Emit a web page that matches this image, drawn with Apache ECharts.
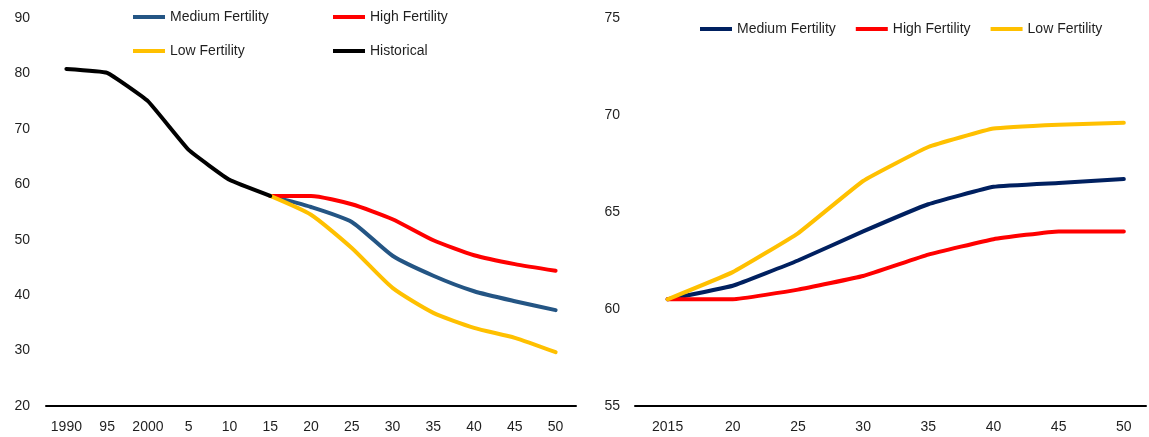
<!DOCTYPE html>
<html>
<head>
<meta charset="utf-8">
<script src="https://cdn.jsdelivr.net/npm/echarts@6/dist/echarts.min.js"></script>
<style>
  html, body { margin: 0; padding: 0; background: #fff; }
  #left { position: absolute; left: 0; top: 0; width: 580px; height: 437px; }
  #right { position: absolute; left: 580px; top: 0; width: 569px; height: 437px; }
</style>
</head>
<body>
<div id="left"></div>
<div id="right"></div>
<script>
// 左图 年份 / 刻度
var histYears = [1990, 1995, 2000, 2005, 2010, 2015];
var projYears = [2015, 2020, 2025, 2030, 2035, 2040, 2045, 2050];
var leftTickYears = [1990, 1995, 2000, 2005, 2010, 2015, 2020, 2025, 2030, 2035, 2040, 2045, 2050];
var leftTickLabels = ['1990', '95', '2000', '5', '10', '15', '20', '25', '30', '35', '40', '45', '50'];

var historical = [80.8, 80.1, 75.0, 66.2, 60.8, 57.9];
var leftMedium = [57.9, 55.9, 53.2, 47.1, 43.5, 40.7, 38.9, 37.3];
var leftHigh = [57.9, 57.9, 56.4, 53.7, 49.9, 47.2, 45.6, 44.4];
var leftLow = [57.9, 54.5, 48.5, 41.3, 36.8, 34.1, 32.3, 29.7];

// 右图
var rightTickYears = [2015, 2020, 2025, 2030, 2035, 2040, 2045, 2050];
var rightTickLabels = ['2015', '20', '25', '30', '35', '40', '45', '50'];
var rightMedium = [60.5, 61.2, 62.5, 64.0, 65.4, 66.3, 66.5, 66.7];
var rightHigh = [60.5, 60.5, 61.0, 61.7, 62.8, 63.6, 64.0, 64.0];
var rightLow = [60.5, 61.9, 63.9, 66.6, 68.35, 69.3, 69.5, 69.6];

var FONT = 'Liberation Sans, Arial, sans-serif';
var TXT = '#1f1f1f';

function pairs(xs, ys) {
  var out = [];
  for (var i = 0; i < xs.length; i++) {
    out.push([xs[i], ys[i]]);
  }
  return out;
}

function tickFormatter(years, labels) {
  return function(v) {
    var i = years.indexOf(Math.round(v * 10) / 10);
    return i >= 0 ? labels[i] : '';
  };
}

function lineSeries(name, color, data, smooth) {
  return {
    name: name,
    type: 'line',
    color: color,
    symbol: 'none',
    smooth: smooth || false,
    lineStyle: { width: 4, color: color, cap: 'round', join: 'round' },
    data: data
  };
}

function legendAt(names, left, top) {
  return {
    data: names,
    left: left,
    top: top,
    padding: 0,
    icon: 'rect',
    itemWidth: 32,
    itemHeight: 4,
    itemGap: 20,
    selectedMode: false,
    textStyle: { fontFamily: FONT, fontSize: 14, color: TXT }
  };
}

function xAxisOf(min, max, years, labels) {
  return {
    type: 'value',
    min: min,
    max: max,
    interval: 2.5,
    axisLine: { show: true, lineStyle: { color: '#000', width: 2 } },
    axisTick: { show: false },
    splitLine: { show: false },
    axisLabel: {
      margin: 14,
      fontFamily: FONT,
      fontSize: 14,
      color: TXT,
      showMinLabel: true,
      showMaxLabel: true,
      formatter: tickFormatter(years, labels)
    }
  };
}

function yAxisOf(min, max, interval, margin) {
  return {
    type: 'value',
    min: min,
    max: max,
    interval: interval,
    axisLine: { show: false },
    axisTick: { show: false },
    splitLine: { show: false },
    axisLabel: { margin: margin, fontFamily: FONT, fontSize: 14, color: TXT }
  };
}

var leftChart = echarts.init(document.getElementById('left'));
leftChart.setOption({
  animation: false,
  textStyle: { fontFamily: FONT },
  legend: [
    legendAt(['Medium Fertility'], 133, 10),
    legendAt(['High Fertility'], 333, 10),
    legendAt(['Low Fertility'], 133, 44),
    legendAt(['Historical'], 333, 44)
  ],
  grid: { left: 46, right: 4, top: 18, bottom: 31 },
  xAxis: xAxisOf(1987.5, 2052.5, leftTickYears, leftTickLabels),
  yAxis: yAxisOf(20, 90, 10, 16),
  series: [
    lineSeries('Medium Fertility', '#245584', pairs(projYears, leftMedium), 0.2),
    lineSeries('High Fertility', '#ff0000', pairs(projYears, leftHigh), 0.2),
    lineSeries('Low Fertility', '#ffc000', pairs(projYears, leftLow), 0.2),
    lineSeries('Historical', '#000000', pairs(histYears, historical), 0.1)
  ]
});

var rightChart = echarts.init(document.getElementById('right'));
rightChart.setOption({
  animation: false,
  textStyle: { fontFamily: FONT },
  legend: legendAt(['Medium Fertility', 'High Fertility', 'Low Fertility'], 120, 22),
  grid: { left: 55, right: 0, top: 18, bottom: 31 },
  xAxis: xAxisOf(2012.5, 2051.7, rightTickYears, rightTickLabels),
  yAxis: yAxisOf(55, 75, 5, 15),
  series: [
    lineSeries('Medium Fertility', '#002060', pairs(projYears, rightMedium), 0.1),
    lineSeries('High Fertility', '#ff0000', pairs(projYears, rightHigh), 0.1),
    lineSeries('Low Fertility', '#ffc000', pairs(projYears, rightLow), 0.1)
  ]
});
</script>
</body>
</html>
